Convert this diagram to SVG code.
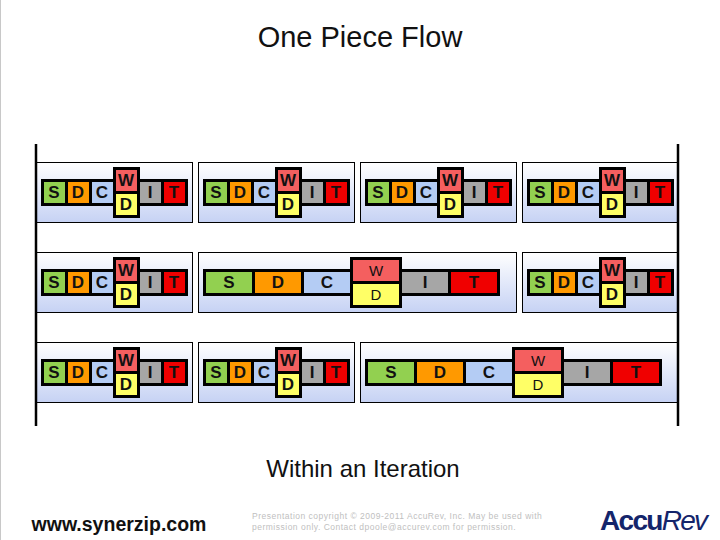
<svg xmlns="http://www.w3.org/2000/svg" width="720" height="540" viewBox="0 0 720 540">
<style>
text{font-family:"Liberation Sans",Arial,sans-serif}
.p{fill:url(#pg);stroke:#000;stroke-width:1}
.b{fill:#000}
.l{font-size:17px;font-weight:bold;text-anchor:middle;fill:#111}
.s{fill:#92d050}.d{fill:#ff9900}.c{fill:#b4ccf4}.w{fill:#f45f5f}.y{fill:#ffff66}.i{fill:#a6a6a6}.t{fill:#f00000}
.rail{stroke:#000;stroke-width:2.5}
</style>
<defs><linearGradient id="pg" x1="0" y1="0" x2="0" y2="1"><stop offset="0" stop-color="#fff"/><stop offset="1" stop-color="#c6d2f4"/></linearGradient></defs>
<rect width="720" height="540" fill="#fff"/>
<path d="M0.5 0V540" stroke="#c8c8c8" fill="none"/>
<text x="360" y="47" font-size="29" text-anchor="middle" fill="#111">One Piece Flow</text>
<g id="panels">
<rect class="p" x="36.5" y="162.5" width="156" height="60"/><rect class="p" x="198.5" y="162.5" width="156" height="60"/><rect class="p" x="360.5" y="162.5" width="156" height="60"/><rect class="p" x="522.5" y="162.5" width="156" height="60"/>
<rect class="p" x="36.5" y="252.5" width="156" height="60"/><rect class="p" x="198.5" y="252.5" width="318" height="60"/><rect class="p" x="522.5" y="252.5" width="156" height="60"/>
<rect class="p" x="36.5" y="342.5" width="156" height="60"/><rect class="p" x="198.5" y="342.5" width="156" height="60"/><rect class="p" x="360.5" y="342.5" width="318" height="60"/>
</g>
<g id="rails"><path class="rail" d="M36 144V426M678 144V426"/></g>
<g id="flow-1-1" transform="translate(0 0)"><rect class="b" x="41" y="179" width="147" height="27"/><rect class="b" x="113" y="167" width="27" height="51"/><rect class="s" x="44" y="182" width="21" height="21"/><rect class="d" x="68" y="182" width="21" height="21"/><rect class="c" x="92" y="182" width="21" height="21"/><rect class="w" x="116" y="170" width="21" height="21"/><rect class="y" x="116" y="194" width="21" height="21"/><rect class="i" x="140" y="182" width="21" height="21"/><rect class="t" x="164" y="182" width="21" height="21"/><text class="l" x="54" y="198">S</text><text class="l" x="78" y="198">D</text><text class="l" x="102" y="198">C</text><text class="l" x="126" y="186">W</text><text class="l" x="126" y="210">D</text><text class="l" x="150" y="198">I</text><text class="l" x="174" y="198">T</text></g>
<g id="flow-1-2" transform="translate(162 0)"><rect class="b" x="41" y="179" width="147" height="27"/><rect class="b" x="113" y="167" width="27" height="51"/><rect class="s" x="44" y="182" width="21" height="21"/><rect class="d" x="68" y="182" width="21" height="21"/><rect class="c" x="92" y="182" width="21" height="21"/><rect class="w" x="116" y="170" width="21" height="21"/><rect class="y" x="116" y="194" width="21" height="21"/><rect class="i" x="140" y="182" width="21" height="21"/><rect class="t" x="164" y="182" width="21" height="21"/><text class="l" x="54" y="198">S</text><text class="l" x="78" y="198">D</text><text class="l" x="102" y="198">C</text><text class="l" x="126" y="186">W</text><text class="l" x="126" y="210">D</text><text class="l" x="150" y="198">I</text><text class="l" x="174" y="198">T</text></g>
<g id="flow-1-3" transform="translate(324 0)"><rect class="b" x="41" y="179" width="147" height="27"/><rect class="b" x="113" y="167" width="27" height="51"/><rect class="s" x="44" y="182" width="21" height="21"/><rect class="d" x="68" y="182" width="21" height="21"/><rect class="c" x="92" y="182" width="21" height="21"/><rect class="w" x="116" y="170" width="21" height="21"/><rect class="y" x="116" y="194" width="21" height="21"/><rect class="i" x="140" y="182" width="21" height="21"/><rect class="t" x="164" y="182" width="21" height="21"/><text class="l" x="54" y="198">S</text><text class="l" x="78" y="198">D</text><text class="l" x="102" y="198">C</text><text class="l" x="126" y="186">W</text><text class="l" x="126" y="210">D</text><text class="l" x="150" y="198">I</text><text class="l" x="174" y="198">T</text></g>
<g id="flow-1-4" transform="translate(486 0)"><rect class="b" x="41" y="179" width="147" height="27"/><rect class="b" x="113" y="167" width="27" height="51"/><rect class="s" x="44" y="182" width="21" height="21"/><rect class="d" x="68" y="182" width="21" height="21"/><rect class="c" x="92" y="182" width="21" height="21"/><rect class="w" x="116" y="170" width="21" height="21"/><rect class="y" x="116" y="194" width="21" height="21"/><rect class="i" x="140" y="182" width="21" height="21"/><rect class="t" x="164" y="182" width="21" height="21"/><text class="l" x="54" y="198">S</text><text class="l" x="78" y="198">D</text><text class="l" x="102" y="198">C</text><text class="l" x="126" y="186">W</text><text class="l" x="126" y="210">D</text><text class="l" x="150" y="198">I</text><text class="l" x="174" y="198">T</text></g>
<g id="flow-2-1" transform="translate(0 90)"><rect class="b" x="41" y="179" width="147" height="27"/><rect class="b" x="113" y="167" width="27" height="51"/><rect class="s" x="44" y="182" width="21" height="21"/><rect class="d" x="68" y="182" width="21" height="21"/><rect class="c" x="92" y="182" width="21" height="21"/><rect class="w" x="116" y="170" width="21" height="21"/><rect class="y" x="116" y="194" width="21" height="21"/><rect class="i" x="140" y="182" width="21" height="21"/><rect class="t" x="164" y="182" width="21" height="21"/><text class="l" x="54" y="198">S</text><text class="l" x="78" y="198">D</text><text class="l" x="102" y="198">C</text><text class="l" x="126" y="186">W</text><text class="l" x="126" y="210">D</text><text class="l" x="150" y="198">I</text><text class="l" x="174" y="198">T</text></g>
<g id="flow-2-2" transform="translate(-162 -90)"><rect class="b" x="365" y="359" width="297" height="27"/><rect class="b" x="512" y="347" width="52" height="51"/><rect class="s" x="368" y="362" width="46" height="21"/><rect class="d" x="417" y="362" width="46" height="21"/><rect class="c" x="466" y="362" width="46" height="21"/><rect class="w" x="515" y="350" width="46" height="21"/><rect class="y" x="515" y="374" width="46" height="21"/><rect class="i" x="564" y="362" width="46" height="21"/><rect class="t" x="613" y="362" width="46" height="21"/><text class="l" x="391" y="378">S</text><text class="l" x="440" y="378">D</text><text class="l" x="489" y="378">C</text><text class="l" x="538" y="366" style="font-weight:normal;font-size:15px">W</text><text class="l" x="538" y="390" style="font-weight:normal;font-size:15px">D</text><text class="l" x="587" y="378">I</text><text class="l" x="636" y="378">T</text></g>
<g id="flow-2-3" transform="translate(486 90)"><rect class="b" x="41" y="179" width="147" height="27"/><rect class="b" x="113" y="167" width="27" height="51"/><rect class="s" x="44" y="182" width="21" height="21"/><rect class="d" x="68" y="182" width="21" height="21"/><rect class="c" x="92" y="182" width="21" height="21"/><rect class="w" x="116" y="170" width="21" height="21"/><rect class="y" x="116" y="194" width="21" height="21"/><rect class="i" x="140" y="182" width="21" height="21"/><rect class="t" x="164" y="182" width="21" height="21"/><text class="l" x="54" y="198">S</text><text class="l" x="78" y="198">D</text><text class="l" x="102" y="198">C</text><text class="l" x="126" y="186">W</text><text class="l" x="126" y="210">D</text><text class="l" x="150" y="198">I</text><text class="l" x="174" y="198">T</text></g>
<g id="flow-3-1" transform="translate(0 180)"><rect class="b" x="41" y="179" width="147" height="27"/><rect class="b" x="113" y="167" width="27" height="51"/><rect class="s" x="44" y="182" width="21" height="21"/><rect class="d" x="68" y="182" width="21" height="21"/><rect class="c" x="92" y="182" width="21" height="21"/><rect class="w" x="116" y="170" width="21" height="21"/><rect class="y" x="116" y="194" width="21" height="21"/><rect class="i" x="140" y="182" width="21" height="21"/><rect class="t" x="164" y="182" width="21" height="21"/><text class="l" x="54" y="198">S</text><text class="l" x="78" y="198">D</text><text class="l" x="102" y="198">C</text><text class="l" x="126" y="186">W</text><text class="l" x="126" y="210">D</text><text class="l" x="150" y="198">I</text><text class="l" x="174" y="198">T</text></g>
<g id="flow-3-2" transform="translate(162 180)"><rect class="b" x="41" y="179" width="147" height="27"/><rect class="b" x="113" y="167" width="27" height="51"/><rect class="s" x="44" y="182" width="21" height="21"/><rect class="d" x="68" y="182" width="21" height="21"/><rect class="c" x="92" y="182" width="21" height="21"/><rect class="w" x="116" y="170" width="21" height="21"/><rect class="y" x="116" y="194" width="21" height="21"/><rect class="i" x="140" y="182" width="21" height="21"/><rect class="t" x="164" y="182" width="21" height="21"/><text class="l" x="54" y="198">S</text><text class="l" x="78" y="198">D</text><text class="l" x="102" y="198">C</text><text class="l" x="126" y="186">W</text><text class="l" x="126" y="210">D</text><text class="l" x="150" y="198">I</text><text class="l" x="174" y="198">T</text></g>
<g id="flow-3-3"><rect class="b" x="365" y="359" width="297" height="27"/><rect class="b" x="512" y="347" width="52" height="51"/><rect class="s" x="368" y="362" width="46" height="21"/><rect class="d" x="417" y="362" width="46" height="21"/><rect class="c" x="466" y="362" width="46" height="21"/><rect class="w" x="515" y="350" width="46" height="21"/><rect class="y" x="515" y="374" width="46" height="21"/><rect class="i" x="564" y="362" width="46" height="21"/><rect class="t" x="613" y="362" width="46" height="21"/><text class="l" x="391" y="378">S</text><text class="l" x="440" y="378">D</text><text class="l" x="489" y="378">C</text><text class="l" x="538" y="366" style="font-weight:normal;font-size:15px">W</text><text class="l" x="538" y="390" style="font-weight:normal;font-size:15px">D</text><text class="l" x="587" y="378">I</text><text class="l" x="636" y="378">T</text></g>
<text x="363" y="477" font-size="24" text-anchor="middle" fill="#111">Within an Iteration</text>
<text x="119" y="531" font-size="19.5" font-weight="bold" text-anchor="middle" fill="#111">www.synerzip.com</text>
<g font-size="8.5" fill="#c0c0c0" letter-spacing="0.5"><text x="252" y="519">Presentation copyright © 2009-2011 AccuRev, Inc. May be used with</text><text x="252" y="530">permission only. Contact dpoole@accurev.com for permission.</text></g>
<text x="600" y="530" font-size="28" fill="#14256b" font-weight="bold" textLength="108">Accu<tspan font-weight="normal" font-style="italic">Rev</tspan></text>
</svg>
